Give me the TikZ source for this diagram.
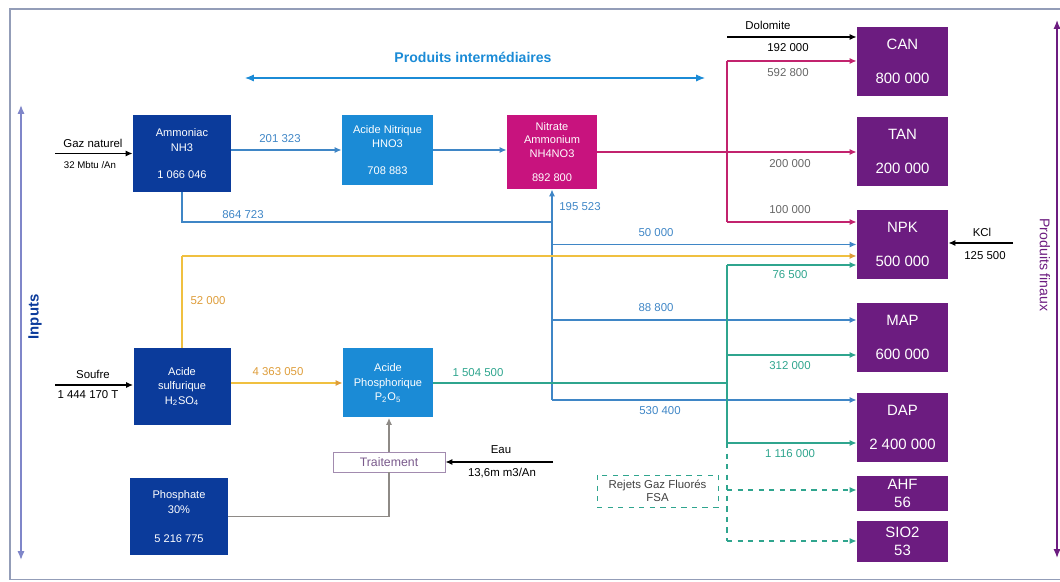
\documentclass[tikz,border=0pt]{standalone}
\usepackage{fontspec}
\setmainfont{Liberation Sans}
\usetikzlibrary{arrows.meta}
\definecolor{PFDark}{HTML}{0B3B9B}
\definecolor{PFSky}{HTML}{1B8BD6}
\definecolor{PFRose}{HTML}{C8137E}
\definecolor{PFPlum}{HTML}{6C1C80}
\definecolor{PFBlue}{HTML}{3F86C6}
\definecolor{PFPink}{HTML}{C2236E}
\definecolor{PFTeal}{HTML}{2FA58E}
\definecolor{PFGold}{HTML}{F0C040}
\definecolor{PFOrange}{HTML}{DE9D3A}
\definecolor{PFFrame}{HTML}{939DB8}
\definecolor{PFAxis}{HTML}{7F86C9}
\definecolor{PFGrey}{HTML}{8E8A86}
\definecolor{PFMauve}{HTML}{7A5A8C}

\begin{document}
\begin{tikzpicture}[x=1cm,y=1cm,
  box/.style={fill=#1,text=white,align=center,inner sep=0pt,font=\fontsize{6.3}{8.3}\selectfont},
  fin/.style={fill=PFPlum,text=white,align=center,inner sep=0pt,minimum width=1.82cm,font=\fontsize{8.5}{10}\selectfont},
  lbl/.style={inner sep=0pt,font=\fontsize{6.5}{7.5}\selectfont},
  link/.style={line width=1pt},
  flow/.style={link,-{Latex[length=4pt,width=3.5pt]}},
  goldflow/.style={link,PFGold,-{Latex[length=4pt,width=3.5pt,color=PFOrange]}},
  axe/.style={line width=0.8pt,{Latex[length=5pt,width=4pt]}-{Latex[length=5pt,width=4pt]}}]
\path[use as bounding box] (0,0) rectangle (21.20,11.64);
\draw[PFFrame,line width=1pt] (21.40,11.46) -- (0.20,11.46) -- (0.20,0.05) -- (21.40,0.05);

% axes
\coordinate (in1) at (0.42,9.54);
\coordinate (in2) at (0.42,0.44);
\draw[axe,PFAxis] (in1) -- (in2);
\node[rotate=90,text=PFDark,font=\fontsize{8.5}{10}\selectfont\bfseries] (inputs) at (0.70,5.30) {Inputs};
\coordinate (pf1) at (21.14,11.24);
\coordinate (pf2) at (21.14,0.48);
\draw[axe,PFPlum] (pf1) -- (pf2);
\node[rotate=-90,text=PFPlum,font=\fontsize{8}{10}\selectfont] (finaux) at (20.90,6.34) {Produits finaux};
\coordinate (pi1) at (4.90,10.08);
\coordinate (pi2) at (14.10,10.08);
\draw[axe,PFSky,line width=0.6pt] (pi1) -- (pi2);
\node[text=PFSky,font=\fontsize{8}{10}\selectfont\bfseries] (inter) at (9.46,10.50) {Produits intermédiaires};

% produits intermediaires
\node[box=PFDark,minimum width=1.96cm,minimum height=1.54cm] (amm) at (3.64,8.57) {Ammoniac\\NH3\\[7pt]1 066 046};
\node[box=PFSky,minimum width=1.82cm,minimum height=1.40cm] (hno) at (7.75,8.64) {Acide Nitrique\\HNO3\\[7pt]708 883};
\node[box=PFRose,minimum width=1.80cm,minimum height=1.48cm,font=\fontsize{6.3}{7.6}\selectfont] (an) at (11.04,8.60) {Nitrate\\Ammonium\\NH4NO3\\[6pt]892 800};
\node[box=PFDark,minimum width=1.94cm,minimum height=1.54cm] (h2so) at (3.64,3.91) {Acide\\sulfurique\\H\textsubscript{2}SO\textsubscript{4}};
\node[box=PFSky,minimum width=1.80cm,minimum height=1.38cm] (h3po) at (7.76,3.98) {Acide\\Phosphorique\\P\textsubscript{2}O\textsubscript{5}};
\node[box=PFDark,minimum width=1.96cm,minimum height=1.54cm] (phos) at (3.58,1.31) {Phosphate\\30\%\\[8pt]5 216 775};
\node[draw=PFMauve!70,fill=white,text=PFMauve,minimum width=2.24cm,minimum height=0.40cm,inner sep=0pt,font=\fontsize{7}{8}\selectfont] (trt) at (7.78,2.40) {Traitement};
\node[draw=PFTeal,dashed,text=black!75,align=center,minimum width=2.42cm,minimum height=0.64cm,inner sep=0pt,font=\fontsize{6.5}{7.5}\selectfont] (fsa) at (13.15,1.82) {Rejets Gaz Fluorés\\FSA};

% produits finaux
\node[fin,minimum height=1.38cm] (can) at (18.05,10.41) {CAN\\[9pt]800 000};
\node[fin,minimum height=1.38cm] (tan) at (18.05,8.61) {TAN\\[9pt]200 000};
\node[fin,minimum height=1.38cm] (npk) at (18.05,6.75) {NPK\\[9pt]500 000};
\node[fin,minimum height=1.38cm] (map) at (18.05,4.89) {MAP\\[9pt]600 000};
\node[fin,minimum height=1.38cm] (dap) at (18.05,3.09) {DAP\\[9pt]2 400 000};
\node[fin,minimum height=0.70cm] (ahf) at (18.05,1.77) {AHF\\56};
\node[fin,minimum height=0.82cm] (sio) at (18.05,0.81) {SIO2\\53};

% entrees
\coordinate (gaz) at (1.10,8.57);
\draw[flow] (gaz) -- (amm.west);
\node[lbl] (gazt) at (1.86,8.78) {Gaz naturel};
\node[lbl,font=\fontsize{5.5}{6.5}\selectfont] (gazq) at (1.80,8.34) {32 Mbtu /An};
\coordinate (souf) at (1.10,3.94);
\draw[flow] (souf) -- (souf -| h2so.west);
\node[lbl] (souft) at (1.86,4.16) {Soufre};
\node[lbl] (soufq) at (1.76,3.74) {1 444 170 T};
\coordinate (eau) at (11.06,2.40);
\draw[flow] (eau) -- (trt.east);
\node[lbl] (eaut) at (10.02,2.64) {Eau};
\node[lbl] (eauq) at (10.04,2.18) {13,6m m3/An};
\coordinate (dolo) at (14.54,10.90);
\draw[flow] (dolo) -- (dolo -| can.west);
\node[lbl] (dolot) at (15.36,11.14) {Dolomite};
\node[lbl] (doloq) at (15.76,10.68) {192 000};
\coordinate (kcl) at (20.26,6.78);
\draw[flow] (kcl) -- (kcl -| npk.east);
\node[lbl] (kclt) at (19.64,6.99) {KCl};
\node[lbl] (kclq) at (19.70,6.52) {125 500};

% ammoniac
\draw[flow,PFBlue] (hno.west -| amm.east) -- (hno.west);
\node[lbl,text=PFBlue] (l201) at (5.60,8.86) {201 323};
\draw[flow,PFBlue] (hno.east) -- (hno.east -| an.west);
\coordinate (nb) at (11.04,7.20);
\coordinate (nb50) at (11.04,6.75);
\coordinate (nb88) at (11.04,5.24);
\coordinate (nb530) at (11.04,3.64);
\draw[link,PFBlue] (amm.south) |- (nb);
\node[lbl,text=PFBlue] (l864) at (4.86,7.34) {864 723};
\draw[flow,PFBlue] (nb) -- (an.south);
\node[lbl,text=PFBlue] (l195) at (11.60,7.50) {195 523};
\draw[link,PFBlue] (nb) -- (nb530);
\draw[flow,PFBlue] (nb50) -- (nb50 -| npk.west);
\node[lbl,text=PFBlue] (l50) at (13.12,6.98) {50 000};
\draw[flow,PFBlue] (nb88) -- (nb88 -| map.west);
\node[lbl,text=PFBlue] (l88) at (13.12,5.48) {88 800};
\draw[flow,PFBlue] (nb530) -- (nb530 -| dap.west);
\node[lbl,text=PFBlue] (l530) at (13.20,3.42) {530 400};

% nitrate
\coordinate (mcan) at (14.54,10.42);
\coordinate (mnpk) at (14.54,7.20);
\draw[flow,PFPink,line width=1.2pt] (an.east) -- (an.east -| tan.west);
\draw[link,PFPink] (mcan) -- (mnpk);
\draw[flow,PFPink] (mcan) -- (mcan -| can.west);
\draw[flow,PFPink] (mnpk) -- (mnpk -| npk.west);
\node[lbl,text=black!60] (l592) at (15.76,10.18) {592 800};
\node[lbl,text=black!60] (l200) at (15.80,8.36) {200 000};
\node[lbl,text=black!60] (l100) at (15.80,7.44) {100 000};

% soufre
\coordinate (yb) at (3.64,6.52);
\draw[link,PFGold] (h2so.north) -- (yb);
\draw[goldflow] (yb) -- (yb -| npk.west);
\node[lbl,text=PFOrange] (l52) at (4.16,5.62) {52 000};
\draw[goldflow] (h2so.east |- h3po.west) -- (h3po.west);
\node[lbl,text=PFOrange] (l4363) at (5.56,4.20) {4 363 050};

% phosphorique
\coordinate (t76) at (14.54,6.34);
\coordinate (t312) at (14.54,4.54);
\coordinate (t1116) at (14.54,2.78);
\draw[link,PFTeal] (h3po.east) -- (h3po.east -| t76);
\node[lbl,text=PFTeal] (l1504) at (9.56,4.18) {1 504 500};
\draw[link,PFTeal] (t76) -- (t1116);
\draw[flow,PFTeal] (t76) -- (t76 -| npk.west);
\node[lbl,text=PFTeal] (l76) at (15.80,6.14) {76 500};
\draw[flow,PFTeal] (t312) -- (t312 -| map.west);
\node[lbl,text=PFTeal] (l312) at (15.80,4.32) {312 000};
\draw[flow,PFTeal] (t1116) -- (t1116 -| dap.west);
\node[lbl,text=PFTeal] (l1116) at (15.80,2.56) {1 116 000};
\coordinate (dahf) at (14.54,1.84);
\coordinate (dsio) at (14.54,0.82);
\draw[link,PFTeal,dashed] (t1116) -- (dsio);
\draw[flow,PFTeal,dashed] (dahf) -- (dahf -| ahf.west);
\draw[flow,PFTeal,dashed] (dsio) -- (dsio -| sio.west);

% phosphate
\draw[link,PFGrey] (phos.east) -| (trt.south);
\draw[flow,PFGrey] (trt.north) -- (trt.north |- h3po.south);
\end{tikzpicture}
\end{document}
